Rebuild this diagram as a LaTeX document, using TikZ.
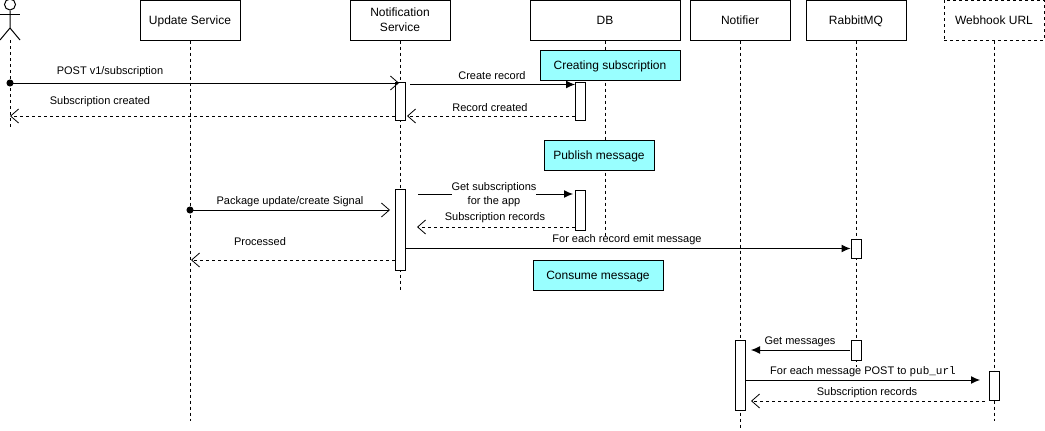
\documentclass[tikz,border=0pt]{standalone}
\usepackage{fontspec}
\setmainfont{Liberation Sans}
\setmonofont{Liberation Mono}
\usetikzlibrary{arrows.meta,positioning,calc}

\definecolor{notecyan}{HTML}{99FFFF}

\tikzset{
  lifebox/.style={draw,fill=white,line width=1pt,minimum width=100pt,minimum height=40pt,inner sep=0pt,align=center,font=\fontsize{12}{15}\selectfont},
  oneline/.style={text height=8.6pt,text depth=0.6pt},
  bar/.style={draw,fill=white,line width=1pt,minimum width=10pt,inner sep=0pt},
  notebox/.style={draw,fill=notecyan,line width=1pt,minimum height=30pt,inner sep=0pt,font=\fontsize{12}{15}\selectfont,oneline},
  lifeline/.style={line width=1pt,dash pattern=on 3pt off 3pt},
  msg/.style={line width=1pt,-{Latex[length=9pt,width=8pt]}},
  call/.style={line width=1pt,shorten <=-3.5pt,{Circle[length=7pt]}-{Straight Barb[length=8pt,width=14pt,line width=.8pt]}},
  reply/.style={line width=.9pt,dash pattern=on 3pt off 3pt,-{Straight Barb[length=8pt,width=14pt,line width=.8pt]}},
  lbl/.style={inner sep=0pt,align=center,font=\fontsize{11}{14}\selectfont}
}

\begin{document}
\begin{tikzpicture}[x=1pt,y=-1pt]
    \useasboundingbox (0,0) rectangle (1045,431);

    % heads
    \node[lifebox,oneline] (update) at (190,20) {Update Service};
    \node[lifebox] (notif) at (400,20) {\raisebox{-1pt}{Notification}\\\raisebox{-1pt}{Service}};
    \node[lifebox,oneline,minimum width=150pt] (db) at (605,20) {DB};
    \node[lifebox,oneline] (notifier) at (740,20) {Notifier};
    \node[lifebox,oneline] (rabbit) at (856,20) {RabbitMQ};
    \node[lifebox,oneline,dashed] (webhook) at (994,20) {Webhook URL};

    % actor
    \coordinate (actor) at (10,28);
    \node[draw,circle,line width=1pt,minimum size=11pt,inner sep=0pt] (head) at (10,4.5) {};
    \draw[line width=1pt] (head.south) -- (actor) -- (0,40);
    \draw[line width=1pt] (actor) -- (20,40);
    \draw[line width=1pt] (0,14) -- (20,14);

    % lifelines
    \coordinate (actorend) at (10,127);
    \coordinate (updateend) at (190,421);
    \coordinate (notifend) at (400,290);
    \coordinate (dbend) at (605,238);
    \coordinate (notifierend) at (740,428);
    \coordinate (rabbitend) at (856,367);
    \coordinate (webhookend) at (994,421);
    \draw[lifeline] (10,40) -- (actorend);
    \draw[lifeline] (update.south) -- (updateend);
    \draw[lifeline] (notif.south) -- (notifend);
    \draw[lifeline] (db.south) -- (dbend);
    \draw[lifeline] (notifier.south) -- (notifierend);
    \draw[lifeline] (rabbit.south) -- (rabbitend);
    \draw[lifeline] (webhook.south) -- (webhookend);

    % notes
    \node[notebox,minimum width=140pt] (create) at (610,65) {Creating subscription};
    \node[notebox,minimum width=110pt] (publish) at (599,155) {Publish message};
    \node[notebox,minimum width=130pt] (consume) at (598,275) {Consume message};

    % activations
    \node[bar,minimum height=38pt] (notifa) at (400,101) {};
    \node[bar,minimum height=38pt] (dba) at (580,101) {};
    \node[bar,minimum height=81pt] (notifb) at (400,229.5) {};
    \node[bar,minimum height=40pt] (dbb) at (580,210) {};
    \node[bar,minimum height=19pt] (rabbita) at (856,248.5) {};
    \node[bar,minimum height=70pt] (notifiera) at (740,375) {};
    \node[bar,minimum height=20pt] (rabbitb) at (856,350) {};
    \node[bar,minimum height=29pt] (webhooka) at (994,385.5) {};

    % free ends
    \coordinate (postfrom) at (10,83);
    \coordinate (postto) at (399,83);
    \coordinate (recfrom) at (410,84.5);
    \coordinate (recto) at (575,84.5);
    \coordinate (recbackto) at (407,116);
    \coordinate (subto) at (10,116);
    \coordinate (signalfrom) at (190,210);
    \coordinate (signalto) at (390,210);
    \coordinate (getfrom) at (418,194);
    \coordinate (getto) at (573,194);
    \coordinate (recsto) at (417,227);
    \coordinate (procto) at (191,260);
    \coordinate (gettoa) at (751,350);
    \coordinate (getfroma) at (850,350);
    \coordinate (postb) at (980,380);
    \coordinate (backfrom) at (985,401);
    \coordinate (backto) at (751,401);

    % messages
    \draw[call] (postfrom) -- (postto);
    \draw[reply] (notifa.west |- subto) -- (subto);
    \draw[msg] (recfrom) -- (recto);
    \draw[reply] (dba.west |- recbackto) -- (recbackto);
    \draw[call] (signalfrom) -- (signalto);
    \draw[msg] (getfrom) -- (getto);
    \draw[reply] (dbb.west |- recsto) -- (recsto);
    \draw[reply] (notifb.west |- procto) -- (procto);
    \draw[msg] (notifb.east |- rabbita.west) -- (rabbita.west);
    \draw[msg] (getfroma) -- (gettoa);
    \draw[msg] (notifiera.east |- postb) -- (postb);
    \draw[reply] (backfrom) -- (backto);

    % labels
    \node[lbl] (lpost) at (110,72) {POST v1/subscription};
    \node[lbl] (lsub) at (100,102) {Subscription created};
    \node[lbl] (lrec) at (492,76) {Create record};
    \node[lbl] (lback) at (490,108) {Record created};
    \node[lbl] (lsignal) at (290,202) {Package update/create Signal};
    \node[lbl,fill=white] (lget) at (494,194.5) {Get subscriptions\\for the app};
    \node[lbl] (lrecs) at (495,218) {Subscription records};
    \node[lbl] (lproc) at (260,242) {Processed};
    \node[lbl] (lemit) at (627,240) {For each record emit message};
    \node[lbl] (lmsgs) at (800,342) {Get messages};
    \node[lbl] (lpub) at (863,372) {For each message POST to \texttt{pub\_url}};
    \node[lbl] (lrecb) at (867,393) {Subscription records};
\end{tikzpicture}
\end{document}
